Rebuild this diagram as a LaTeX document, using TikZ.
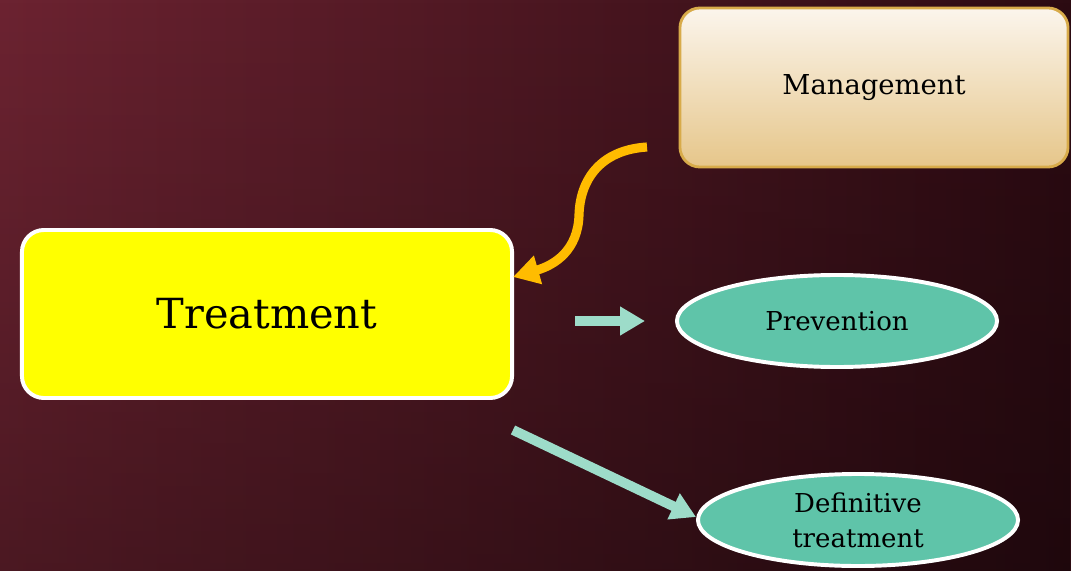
\documentclass[tikz,border=0pt]{standalone}
\usepackage{fontspec}
\setmainfont{DejaVu Serif}
\usetikzlibrary{arrows.meta}
\usetikzlibrary{shapes.geometric}
\usetikzlibrary{fadings}
\definecolor{wine}{HTML}{6C2331}
\definecolor{darkwine}{HTML}{2C0B12}
\definecolor{lemon}{HTML}{FFFF00}
\definecolor{mgmttop}{HTML}{FBF5EC}
\definecolor{mgmtbot}{HTML}{E6C68A}
\definecolor{mgmtline}{HTML}{D8AB4A}
\definecolor{leaf}{HTML}{5FC4A9}
\definecolor{mint}{HTML}{9DDCC9}
\definecolor{amber}{HTML}{FFBC00}
\tikzset{mainbox/.style = {draw=white, line width=2.8pt, fill=lemon,
                           rounded corners=0.55cm, minimum width=12.25cm,
                           minimum height=4.2cm, font=\fontsize{29.5}{34}\selectfont},
         topbox/.style = {draw=mgmtline, line width=2pt, top color=mgmttop,
                          bottom color=mgmtbot, rounded corners=0.5cm,
                          minimum width=9.7cm, minimum height=3.975cm,
                          font=\fontsize{19.5}{23}\selectfont},
         oval/.style = {ellipse, draw=white, line width=2.8pt, fill=leaf,
                        inner sep=0pt, minimum width=8cm, minimum height=2.3cm,
                        align=center, font=\fontsize{18.5}{25}\selectfont},
         mintarrow/.style = {draw=mint, line width=7pt,
                             -{Triangle[length=0.62cm, width=0.68cm]}},
         amberarrow/.style = {draw=amber, line width=6.5pt,
                              -{Triangle[length=0.65cm, width=0.7cm]}}}

\begin{document}
\begin{tikzpicture}[x=0.025cm, y=-0.025cm]
      \useasboundingbox (0, 0) rectangle (1071, 571);
      \shade [left color=wine, right color=darkwine] (0, 0) rectangle (1071, 571);
      \fill [black, opacity=0.3, path fading=north] (0, 0) rectangle (1071, 571);

      \node [topbox] (management) at (874, 87.5) {Management};
      \node [mainbox] (treatment) at (267, 314) {Treatment};
      \node [oval] (prevention) at (837, 321) {Prevention};
      \node [oval] (definitive) at (858, 520) {Definitive\\treatment};

      \coordinate (mgmtout) at (647, 147);
      \coordinate (treatin) at (513, 277);
      \coordinate (treatout) at (513, 430);
      \coordinate (defin) at (696, 517);

      \draw [amberarrow] (mgmtout) .. controls (600, 150) and (580, 180) .. (579, 215)
            .. controls (578, 250) and (555, 265) .. (treatin);
      \draw [mintarrow, shorten <=1.525cm, shorten >=0.75cm]
            (treatment.east |- prevention.west) -- (prevention.west);
      \draw [mintarrow] (treatout) -- (defin);
    \end{tikzpicture}
\end{document}
